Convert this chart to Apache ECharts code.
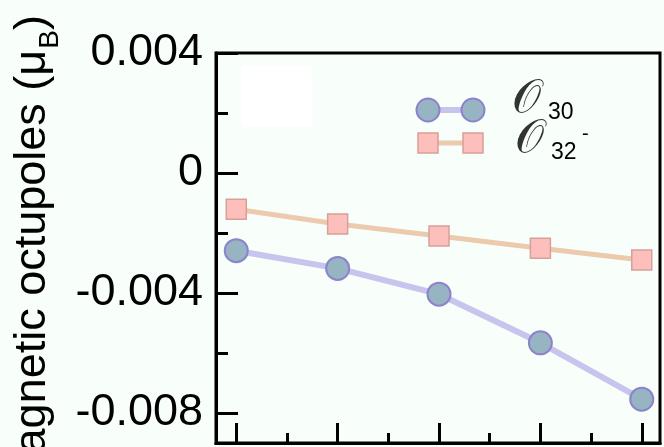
<!DOCTYPE html>
<html>
<head>
<meta charset="utf-8">
<script src="https://cdn.jsdelivr.net/npm/echarts@6/dist/echarts.min.js"></script>
<style>
  html, body { margin: 0; padding: 0; background: #f8fffb; }
  #chart { width: 664px; height: 447px; }
</style>
</head>
<body>
<div id="chart"></div>
<script>
// Sample index along the horizontal axis
const xValues = [0, 1, 2, 3, 4];
// Magnetic octupole moments (μB)
const o30 = [-0.00259, -0.00318, -0.00404, -0.00566, -0.00754];
const o32 = [-0.00121, -0.0017, -0.0021, -0.00251, -0.0029];
// Tick positions
const xMajorTicks = [0, 1, 2, 3, 4];
const xMinorTicks = [0.5, 1.5, 2.5, 3.5];
const yMajorTicks = [-0.008, -0.004, 0, 0.004];
const yMinorTicks = [-0.006, -0.002, 0.002];
const seriesNames = ['O30', 'O32-'];

const chart = echarts.init(document.getElementById('chart'));

const xMin = -0.2, xMax = 4.18;
const yMin = -0.009, yMax = 0.004;
const axisColor = '#000';

function xAxisWith(ticks, len) {
  return {
    type: 'value', min: xMin, max: xMax, position: 'bottom',
    axisLine: { show: true, onZero: false, lineStyle: { color: axisColor, width: 3 } },
    axisTick: { show: true, inside: true, length: len, customValues: ticks,
                lineStyle: { color: axisColor, width: 3 } },
    axisLabel: { show: false },
    splitLine: { show: false }
  };
}

const scriptFont = 'DejaVu Serif, DejaVu Sans, serif';

chart.setOption({
  backgroundColor: '#f8fffb',
  animation: false,
  grid: {
    left: 216, right: 4, top: 53, bottom: 4,
    containLabel: false, outerBoundsMode: 'none',
    show: true, borderColor: axisColor, borderWidth: 3,
    backgroundColor: 'transparent'
  },
  xAxis: [xAxisWith(xMajorTicks, 20), xAxisWith(xMinorTicks, 10)],
  yAxis: [
    {
      type: 'value', min: yMin, max: yMax, position: 'left',
      name: '{m|magnetic octupoles (μ}{b|B}{e|)}',
      nameLocation: 'middle', nameRotate: 90, nameGap: 151,
      nameTextStyle: {
        rich: {
          m: { fontFamily: 'Liberation Sans', fontSize: 45, color: '#000',
               lineHeight: 50, verticalAlign: 'top' },
          e: { fontFamily: 'Liberation Sans', fontSize: 45, color: '#000',
               lineHeight: 50, verticalAlign: 'top', padding: [0, 10, 0, 0] },
          b: { fontFamily: 'Liberation Sans', fontSize: 28, color: '#000',
               lineHeight: 28, padding: [26, 0, 0, 1], verticalAlign: 'top' }
        }
      },
      axisLine: { show: true, onZero: false, lineStyle: { color: axisColor, width: 3 } },
      axisTick: { show: true, inside: true, length: 22, customValues: yMajorTicks,
                  lineStyle: { color: axisColor, width: 3 } },
      axisLabel: {
        customValues: yMajorTicks, showMinLabel: true, showMaxLabel: true,
        margin: 13, fontFamily: 'Liberation Sans', fontSize: 45, color: '#000',
        formatter: v => (Math.abs(v) < 1e-12 ? '0' : v.toFixed(3))
      },
      splitLine: { show: false }
    },
    {
      type: 'value', min: yMin, max: yMax, position: 'left',
      axisLine: { show: false, onZero: false },
      axisTick: { show: true, inside: true, length: 12, customValues: yMinorTicks,
                  lineStyle: { color: axisColor, width: 3 } },
      axisLabel: { show: false },
      splitLine: { show: false }
    }
  ],
  graphic: [
    // blank patch in the upper-left corner of the plot
    { type: 'rect', shape: { x: 241, y: 66, width: 71, height: 61 },
      style: { fill: '#ffffff' }, z: 0 },
    // legend: O30
    { type: 'line', shape: { x1: 428, y1: 110, x2: 473, y2: 110 },
      style: { stroke: '#c7c4ee', lineWidth: 6 }, z: 10 },
    { type: 'circle', shape: { cx: 428, cy: 110, r: 11.5 },
      style: { fill: '#97b4c3', stroke: '#8d83cc', lineWidth: 2 }, z: 11 },
    { type: 'circle', shape: { cx: 473, cy: 110, r: 11.5 },
      style: { fill: '#97b4c3', stroke: '#8d83cc', lineWidth: 2 }, z: 11 },
    // legend: O32-
    { type: 'line', shape: { x1: 428, y1: 143, x2: 473, y2: 143 },
      style: { stroke: '#eccaae', lineWidth: 5 }, z: 10 },
    { type: 'rect', shape: { x: 418, y: 133, width: 20, height: 20 },
      style: { fill: '#fdbfbb', stroke: '#d89f98', lineWidth: 1.5 }, z: 11 },
    { type: 'rect', shape: { x: 463, y: 133, width: 20, height: 20 },
      style: { fill: '#fdbfbb', stroke: '#d89f98', lineWidth: 1.5 }, z: 11 },
    { type: 'text', x: 512, y: 100, z: 11,
      style: { text: '𝒪', fontFamily: scriptFont, fontSize: 46, fill: '#333',
               verticalAlign: 'middle' } },
    { type: 'text', x: 548, y: 113, z: 11,
      style: { text: '30', fontFamily: 'Liberation Sans', fontSize: 23, fill: '#000',
               verticalAlign: 'middle' } },
    { type: 'text', x: 515, y: 140, z: 11,
      style: { text: '𝒪', fontFamily: scriptFont, fontSize: 46, fill: '#333',
               verticalAlign: 'middle' } },
    { type: 'text', x: 551, y: 153, z: 11,
      style: { text: '32', fontFamily: 'Liberation Sans', fontSize: 23, fill: '#000',
               verticalAlign: 'middle' } },
    { type: 'text', x: 582, y: 134, z: 11,
      style: { text: '-', fontFamily: 'Liberation Sans', fontSize: 20, fill: '#000',
               verticalAlign: 'middle' } }
  ],
  series: [
    {
      name: seriesNames[0], type: 'line', xAxisIndex: 0, yAxisIndex: 0,
      data: xValues.map((x, i) => [x, o30[i]]),
      symbol: 'circle', symbolSize: 23,
      itemStyle: { color: '#97b4c3', borderColor: '#8d83cc', borderWidth: 2 },
      lineStyle: { color: '#c7c4ee', width: 6 },
      z: 5
    },
    {
      name: seriesNames[1], type: 'line', xAxisIndex: 0, yAxisIndex: 0,
      data: xValues.map((x, i) => [x, o32[i]]),
      symbol: 'rect', symbolSize: 20,
      itemStyle: { color: '#fdbfbb', borderColor: '#d89f98', borderWidth: 1.5 },
      lineStyle: { color: '#eccaae', width: 5 },
      z: 5
    }
  ]
});
</script>
</body>
</html>
